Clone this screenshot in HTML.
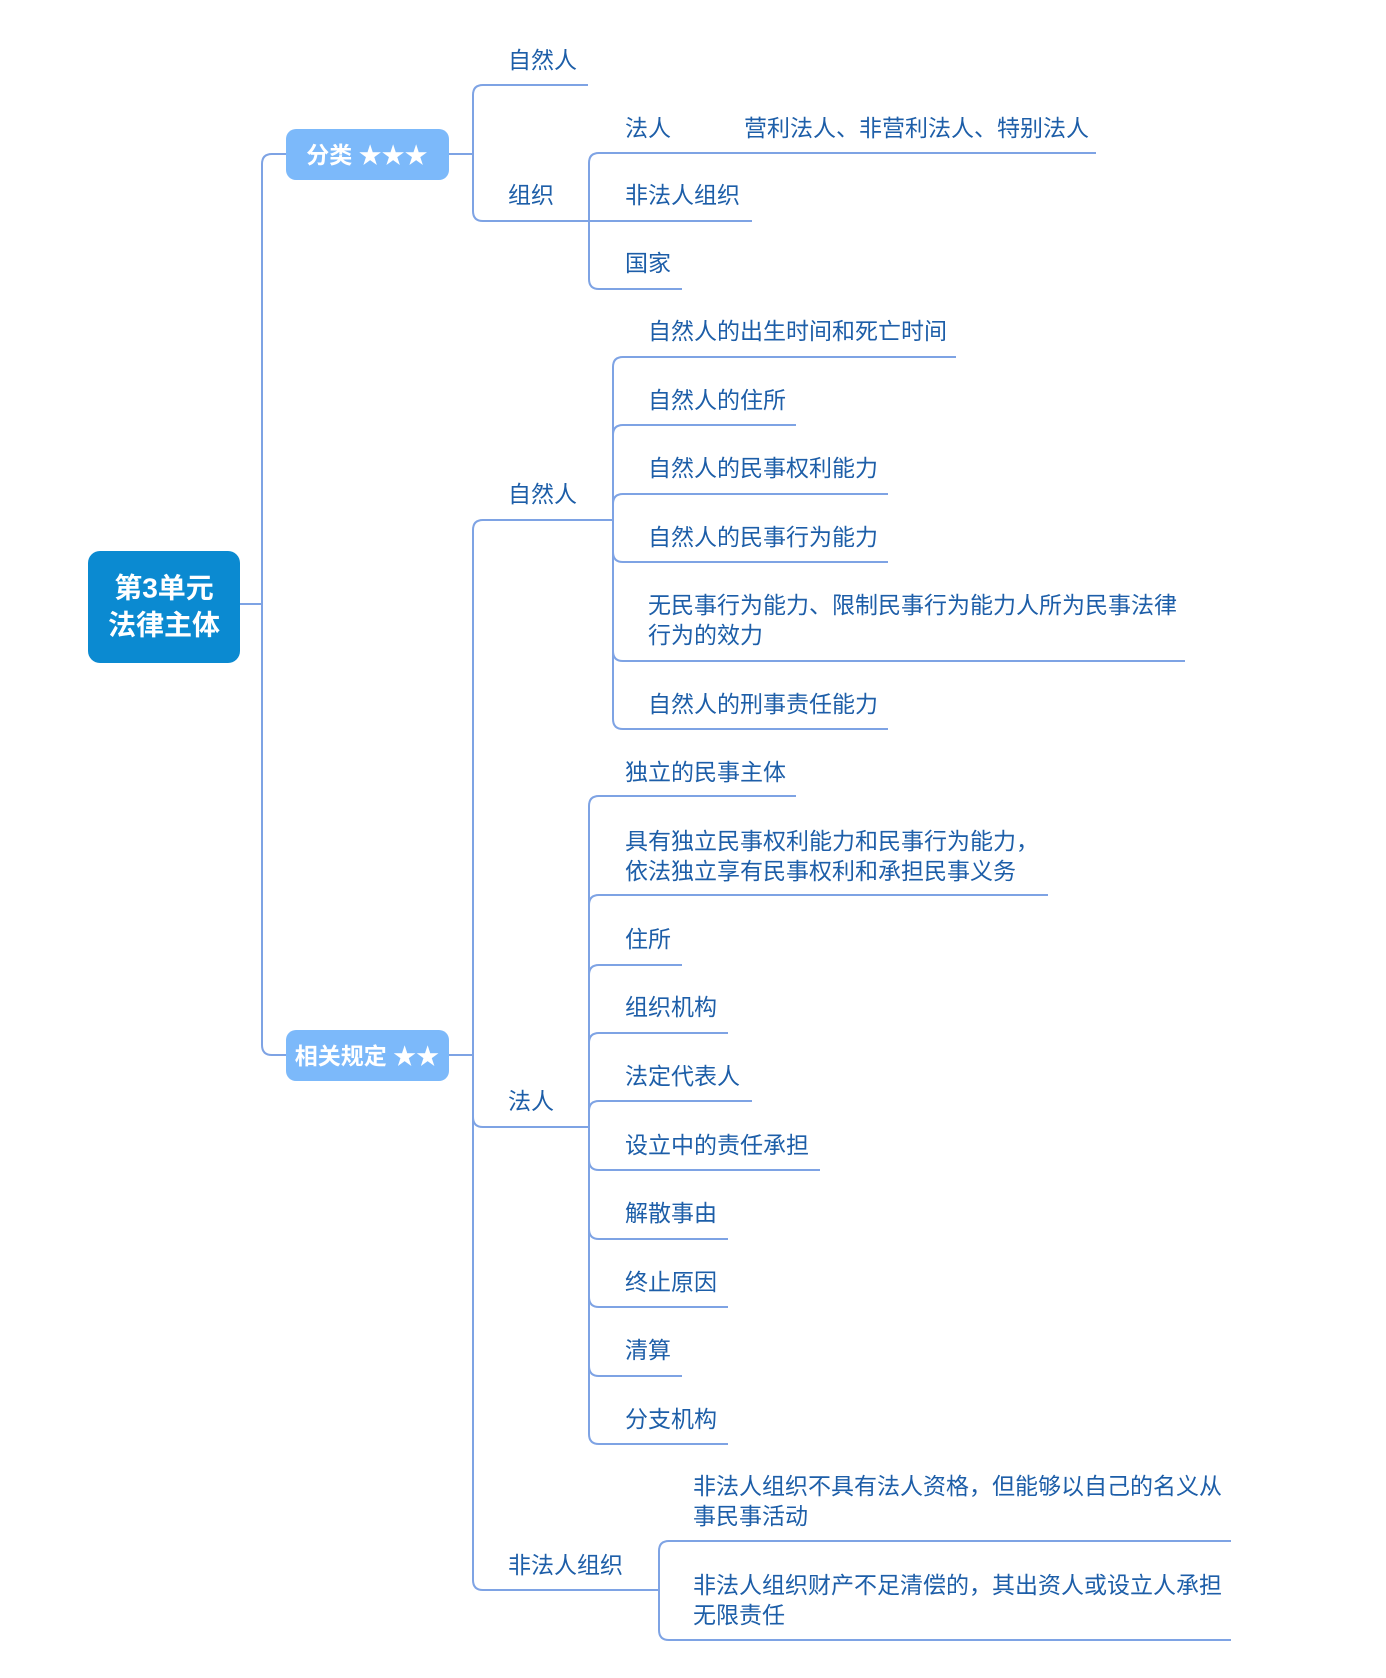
<!DOCTYPE html>
<html><head><meta charset="utf-8"><style>
html,body{margin:0;padding:0;background:#fff}
svg{display:block}
text{font-family:"Liberation Sans","Noto Sans CJK SC",sans-serif;fill:#1d5ea8;font-size:23px;dominant-baseline:central}
text.b{fill:#fff;font-weight:bold}
path{fill:none;stroke:#7ea3e4;stroke-width:2}
</style></head><body>
<svg width="1386" height="1678" viewBox="0 0 1386 1678" xmlns="http://www.w3.org/2000/svg">
<!-- root -->
<rect x="88" y="551" width="152" height="112" rx="12" fill="#0b8ad1"/>
<text class="b" x="164" y="588" text-anchor="middle" style="font-size:28px">第3单元</text>
<text class="b" x="164" y="625" text-anchor="middle" style="font-size:28px">法律主体</text>
<path d="M240 604 H262"/>
<path d="M262 604 V164 Q262 154 272 154 H286"/>
<path d="M262 604 V1045 Q262 1055 272 1055 H286"/>
<rect x="286" y="129" width="163" height="51" rx="10" fill="#7cb9fa"/>
<text class="b" x="367" y="155" text-anchor="middle" style="font-size:23px">分类 ★★★</text>
<rect x="286" y="1030" width="163" height="51" rx="10" fill="#7cb9fa"/>
<text class="b" x="367" y="1056" text-anchor="middle" style="font-size:23px">相关规定 ★★</text>

<!-- 分类 branch -->
<path d="M449 154 H473"/>
<path d="M473 154 V95 Q473 85 483 85 H588"/>
<path d="M473 154 V211 Q473 221 483 221 H589"/>
<text x="508" y="60">自然人</text>
<text x="508" y="195">组织</text>
<path d="M589 221 V163 Q589 153 599 153 H1096"/>
<path d="M589 221 H752"/>
<path d="M589 221 V279 Q589 289 599 289 H682"/>
<text x="625" y="128">法人</text>
<text x="744" y="128">营利法人、非营利法人、特别法人</text>
<text x="625" y="195">非法人组织</text>
<text x="625" y="263">国家</text>

<!-- 相关规定 branch -->
<path d="M449 1055 H473"/>
<path d="M473 1055 V530 Q473 520 483 520 H613"/>
<path d="M473 1055 V1117 Q473 1127 483 1127 H589"/>
<path d="M473 1055 V1580 Q473 1590 483 1590 H659"/>
<text x="508" y="494">自然人</text>
<text x="508" y="1101">法人</text>
<text x="508" y="1565">非法人组织</text>

<!-- 自然人 children -->
<path d="M613 520 V367 Q613 357 623 357 H956"/>
<path d="M613 520 V435 Q613 425 623 425 H796"/>
<path d="M613 520 V504 Q613 494 623 494 H888"/>
<path d="M613 520 V552 Q613 562 623 562 H888"/>
<path d="M613 520 V651 Q613 661 623 661 H1185"/>
<path d="M613 520 V719 Q613 729 623 729 H888"/>
<text x="648" y="331">自然人的出生时间和死亡时间</text>
<text x="648" y="400">自然人的住所</text>
<text x="648" y="468">自然人的民事权利能力</text>
<text x="648" y="537">自然人的民事行为能力</text>
<text x="648" y="605">无民事行为能力、限制民事行为能力人所为民事法律</text>
<text x="648" y="635">行为的效力</text>
<text x="648" y="704">自然人的刑事责任能力</text>

<!-- 法人 children -->
<path d="M589 1127 V806 Q589 796 599 796 H796"/>
<path d="M589 1127 V905 Q589 895 599 895 H1048"/>
<path d="M589 1127 V975 Q589 965 599 965 H682"/>
<path d="M589 1127 V1043 Q589 1033 599 1033 H728"/>
<path d="M589 1127 V1111 Q589 1101 599 1101 H752"/>
<path d="M589 1127 V1160 Q589 1170 599 1170 H820"/>
<path d="M589 1127 V1229 Q589 1239 599 1239 H728"/>
<path d="M589 1127 V1297 Q589 1307 599 1307 H728"/>
<path d="M589 1127 V1366 Q589 1376 599 1376 H682"/>
<path d="M589 1127 V1434 Q589 1444 599 1444 H728"/>
<text x="625" y="772">独立的民事主体</text>
<text x="625" y="841">具有独立民事权利能力和民事行为能力，</text>
<text x="625" y="871">依法独立享有民事权利和承担民事义务</text>
<text x="625" y="939">住所</text>
<text x="625" y="1007">组织机构</text>
<text x="625" y="1076">法定代表人</text>
<text x="625" y="1145">设立中的责任承担</text>
<text x="625" y="1213">解散事由</text>
<text x="625" y="1282">终止原因</text>
<text x="625" y="1350">清算</text>
<text x="625" y="1419">分支机构</text>

<!-- 非法人组织 children -->
<path d="M659 1590 V1551 Q659 1541 669 1541 H1231"/>
<path d="M659 1590 V1630 Q659 1640 669 1640 H1231"/>
<text x="693" y="1486">非法人组织不具有法人资格，但能够以自己的名义从</text>
<text x="693" y="1516">事民事活动</text>
<text x="693" y="1585">非法人组织财产不足清偿的，其出资人或设立人承担</text>
<text x="693" y="1615">无限责任</text>
</svg>
</body></html>
